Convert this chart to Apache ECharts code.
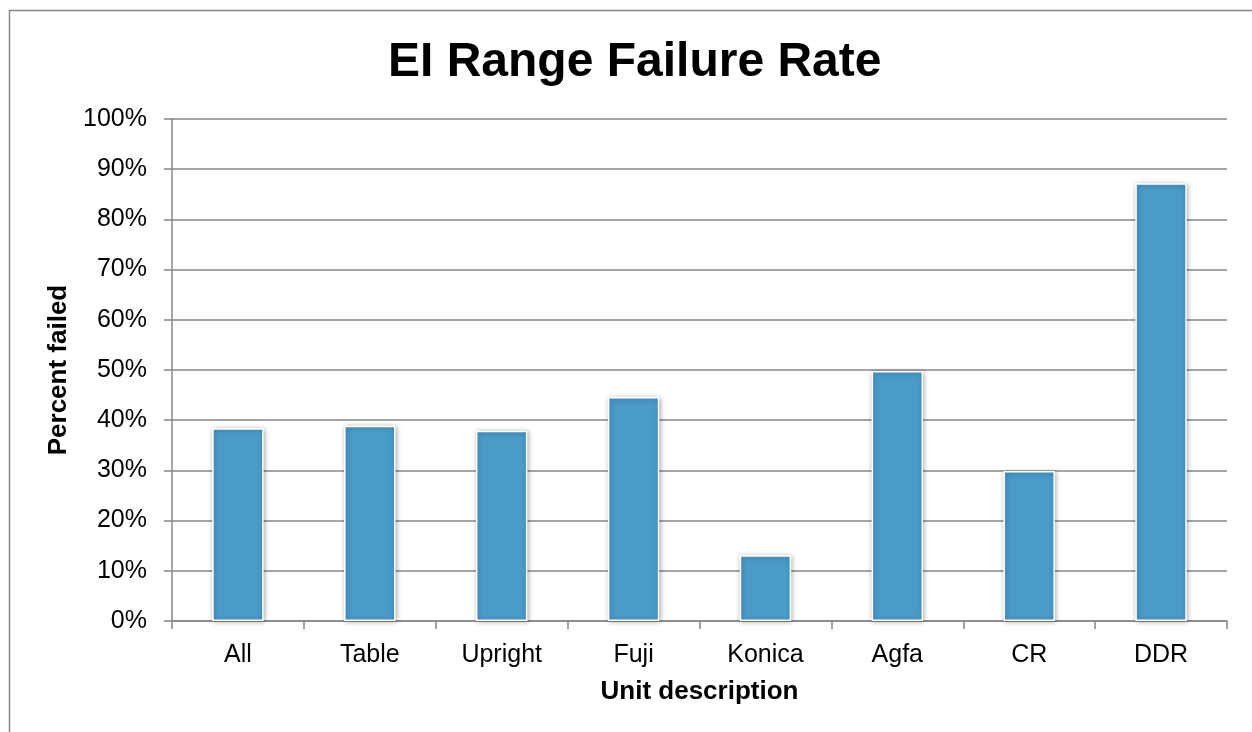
<!DOCTYPE html>
<html>
<head>
<meta charset="utf-8">
<script src="https://cdn.jsdelivr.net/npm/echarts@6/dist/echarts.min.js"></script>
<style>
html, body { margin: 0; padding: 0; background: #fff; }
#main { width: 1252px; height: 732px; }
</style>
</head>
<body>
<div id="main"></div>
<script>
// 数据
var categories = ['All', 'Table', 'Upright', 'Fuji', 'Konica', 'Agfa', 'CR', 'DDR'];
var failedPct = [38.4, 38.9, 37.9, 44.6, 13.1, 49.8, 29.9, 87.2];
var yTicks = [0, 10, 20, 30, 40, 50, 60, 70, 80, 90, 100];

var myChart = echarts.init(document.getElementById('main'));
var gray = '#878787';
var font = 'Liberation Sans, Arial, sans-serif';

var option = {
    backgroundColor: '#fff',
    animation: false,
    title: {
        text: 'EI Range Failure Rate',
        left: 388,
        top: 39,
        padding: 0,
        textStyle: { fontFamily: font, fontSize: 48, fontWeight: 'bold', color: '#000' }
    },
    graphic: [
        {
            type: 'rect',
            shape: { x: 9.5, y: 10.5, width: 1400, height: 900 },
            style: { fill: 'none', stroke: gray, lineWidth: 1.5 },
            silent: true
        }
    ],
    grid: { left: 172, right: 25, top: 119, bottom: 111 },
    xAxis: {
        type: 'category',
        data: categories,
        name: 'Unit description',
        nameLocation: 'middle',
        nameGap: 58,
        nameTextStyle: { fontFamily: font, fontSize: 26, fontWeight: 'bold', color: '#000' },
        axisLine: { lineStyle: { color: gray, width: 1.5 } },
        axisTick: { show: true, length: 8, lineStyle: { color: gray, width: 1.5 } },
        axisLabel: { fontFamily: font, fontSize: 25, color: '#000', margin: 22 }
    },
    yAxis: {
        type: 'value',
        min: yTicks[0],
        max: yTicks[yTicks.length - 1],
        interval: yTicks[1] - yTicks[0],
        name: 'Percent failed',
        nameLocation: 'middle',
        nameGap: 95,
        nameTextStyle: { fontFamily: font, fontSize: 26, fontWeight: 'bold', color: '#000' },
        axisLine: { show: true, lineStyle: { color: gray, width: 1.5 } },
        axisTick: { show: true, length: 8, lineStyle: { color: gray, width: 1.5 } },
        axisLabel: { fontFamily: font, fontSize: 25, color: '#000', margin: 25, formatter: '{value}%' },
        splitLine: { lineStyle: { color: gray, width: 1.5 } }
    },
    series: [
        {
            name: 'Percent failed',
            type: 'bar',
            data: failedPct,
            barWidth: '39%',
            itemStyle: {
                color: '#4a9bca',
                borderColor: '#ffffff',
                borderWidth: 1.5,
                shadowBlur: 5,
                shadowOffsetX: 1,
                shadowOffsetY: 1,
                shadowColor: 'rgba(0,0,0,0.35)'
            }
        }
    ]
};

myChart.setOption(option);
</script>
</body>
</html>
